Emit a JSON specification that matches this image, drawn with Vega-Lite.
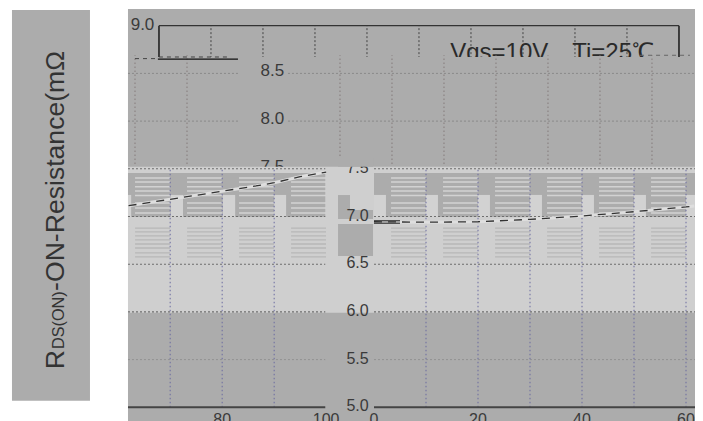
{"$schema":"https://vega.github.io/schema/vega-lite/v6.json","width":703,"height":421,"padding":0,"autosize":{"type":"fit","contains":"padding"},"background":"#ffffff","config":{"view":{"stroke":null},"axis":{"disable":true},"text":{"font":"Liberation Sans"}},"resolve":{"scale":{"x":"independent"}},
"datasets":{"curve":[{"x":0,"y":6.945},{"x":10,"y":6.94},{"x":20,"y":6.945},{"x":30,"y":6.97},{"x":40,"y":7.005},{"x":50,"y":7.05},{"x":60,"y":7.1},{"x":61.6,"y":7.11},{"x":62,"y":7.113},{"x":70,"y":7.18},{"x":80,"y":7.265},{"x":86.5,"y":7.32},{"x":90,"y":7.354},{"x":95,"y":7.417},{"x":100,"y":7.466}],
"upperStripes":[{"y":7.404},{"y":7.362},{"y":7.313},{"y":7.267},{"y":7.22},{"y":7.142},{"y":7.09},{"y":7.037}],
"lowerStripes":[{"y":6.879},{"y":6.838},{"y":6.796},{"y":6.754},{"y":6.712},{"y":6.67},{"y":6.618},{"y":6.576}]},
"layer":[
{"data":{"values":[{"x":-69.62,"x2":-54.62,"y":5.069,"y2":9.165},{"x":-47.31,"x2":61.73,"y":4.8564,"y2":9.175}]},"mark":{"type":"rect","color":"#acacac"},"encoding":{"x":{"field":"x","type":"quantitative","scale":{"domain":[-71.923,63.269],"nice":false}},"x2":{"field":"x2"},"y":{"field":"y","type":"quantitative","scale":{"domain":[4.8564,9.2694],"nice":false}},"y2":{"field":"y2"}}},
{"data":{"values":[{"x":10},{"x":20},{"x":30},{"x":40},{"x":50},{"x":60},{"x":70},{"x":80},{"x":90}]},"mark":{"type":"rule","color":"#444444","strokeDash":[2,2]},"encoding":{"x":{"field":"x","type":"quantitative","scale":{"domain":[-30.573,104.619],"nice":false}},"y":{"datum":8.66,"type":"quantitative"},"y2":{"datum":9}}},
{"data":{"values":[{"x":0},{"x":100}]},"mark":{"type":"rule","color":"#222222","strokeWidth":1.6},"encoding":{"x":{"field":"x","type":"quantitative","scale":{"domain":[-30.573,104.619],"nice":false}},"y":{"datum":8.67,"type":"quantitative"},"y2":{"datum":9}}},
{"data":{"values":[{"x":0,"x2":100,"y":9}]},"mark":{"type":"rule","color":"#333333","strokeWidth":1.2},"encoding":{"x":{"field":"x","type":"quantitative","scale":{"domain":[-30.573,104.619],"nice":false}},"x2":{"field":"x2"},"y":{"field":"y","type":"quantitative"}}},
{"data":{"values":[{"x":56,"y":8.64,"t":"Vgs=10V，Ti=25℃"}]},"mark":{"type":"text","fontSize":24,"align":"left","baseline":"alphabetic","color":"#2a2a2a"},"encoding":{"x":{"field":"x","type":"quantitative","scale":{"domain":[-30.573,104.619],"nice":false}},"y":{"field":"y","type":"quantitative"},"text":{"field":"t"}}},
{"data":{"values":[{"y":9}]},"mark":{"type":"text","fontSize":17,"align":"center","baseline":"middle","dy":-1,"color":"#3a3a3a"},"encoding":{"x":{"datum":-3.17,"type":"quantitative","scale":{"domain":[-30.573,104.619],"nice":false}},"y":{"field":"y","type":"quantitative"},"text":{"field":"y","type":"quantitative","format":".1f"}}},
{"data":{"values":[{"x":-47.31,"x2":61.73,"y":7.522,"y2":8.672}]},"mark":{"type":"rect","color":"#acacac"},"encoding":{"x":{"field":"x","type":"quantitative","scale":{"domain":[-71.923,63.269],"nice":false}},"x2":{"field":"x2"},"y":{"field":"y","type":"quantitative"},"y2":{"field":"y2"}}},
{"data":{"values":[{"x":-47.31,"x2":-25.96,"y":8.5},{"x":-16.54,"x2":61.73,"y":8.5},{"x":-47.31,"x2":-25.96,"y":8},{"x":-16.54,"x2":61.73,"y":8}]},"mark":{"type":"rule","color":"#8a8a8a","strokeDash":[2,2]},"encoding":{"x":{"field":"x","type":"quantitative","scale":{"domain":[-71.923,63.269],"nice":false}},"x2":{"field":"x2"},"y":{"field":"y","type":"quantitative"}}},
{"data":{"values":[{"x":10},{"x":20},{"x":30},{"x":40},{"x":50},{"x":60},{"x":70}]},"mark":{"type":"rule","color":"#847b7b","strokeDash":[1.5,2.5]},"encoding":{"x":{"field":"x","type":"quantitative","scale":{"domain":[-55.383,79.809],"nice":false}},"y":{"datum":7.55,"type":"quantitative"},"y2":{"datum":8.69}}},
{"data":{"values":[{"x":80},{"x":90}]},"mark":{"type":"rule","color":"#847b7b","strokeDash":[1.5,2.5]},"encoding":{"x":{"field":"x","type":"quantitative","scale":{"domain":[54.037,189.229],"nice":false}},"y":{"datum":7.55,"type":"quantitative"},"y2":{"datum":8.69}}},
{"data":{"values":[{"y":8.5},{"y":8},{"y":7.5}]},"mark":{"type":"text","fontSize":17,"align":"center","baseline":"middle","dy":-2,"color":"#3a3a3a"},"encoding":{"x":{"datum":-3,"type":"quantitative","scale":{"domain":[-55.383,79.809],"nice":false}},"y":{"field":"y","type":"quantitative"},"text":{"field":"y","type":"quantitative","format":".1f"}}},
{"data":{"values":[{"x":-47.31,"x2":61.73,"y":5.992,"y2":7.522}]},"mark":{"type":"rect","color":"#cfcfcf"},"encoding":{"x":{"field":"x","type":"quantitative","scale":{"domain":[-71.923,63.269],"nice":false}},"x2":{"field":"x2"},"y":{"field":"y","type":"quantitative"},"y2":{"field":"y2"}}},
{"data":{"values":[{"x":-47.31,"x2":-9.37,"y":6.995,"y2":7.456},{"x":0,"x2":61.73,"y":6.995,"y2":7.456},{"x":-6.92,"x2":-4.62,"y":7.068,"y2":7.225},{"x":-6.92,"x2":-0.19,"y":6.974,"y2":7.068},{"x":-6.92,"x2":-0.19,"y":6.586,"y2":6.921}]},"mark":{"type":"rect","color":"#acacac"},"encoding":{"x":{"field":"x","type":"quantitative","scale":{"domain":[-71.923,63.269],"nice":false}},"x2":{"field":"x2"},"y":{"field":"y","type":"quantitative"},"y2":{"field":"y2"}}},
{"data":{"values":[{"x":-47.31,"x2":-46.7},{"x":-39.1,"x2":-36.73},{"x":-29.1,"x2":-26.7},{"x":-19.2,"x2":-16.9},{"x":0,"x2":2.3},{"x":10,"x2":12.3},{"x":20,"x2":22.3},{"x":30,"x2":32.3},{"x":40,"x2":42.3},{"x":50,"x2":52.3},{"x":60,"x2":61.73}]},"mark":{"type":"rect","color":"#d2d2d2"},"encoding":{"x":{"field":"x","type":"quantitative","scale":{"domain":[-71.923,63.269],"nice":false}},"x2":{"field":"x2"},"y":{"datum":6.995,"type":"quantitative"},"y2":{"datum":7.226}}},
{"data":{"name":"upperStripes"},"mark":{"type":"rule","color":"#d2d2d2","strokeWidth":1.5,"strokeDash":[35,17]},"encoding":{"x":{"datum":63.24,"type":"quantitative","scale":{"domain":[37.277,172.469],"nice":false}},"x2":{"datum":100},"y":{"field":"y","type":"quantitative"}}},
{"data":{"name":"upperStripes"},"mark":{"type":"rule","color":"#d2d2d2","strokeWidth":1.5,"strokeDash":[35,17]},"encoding":{"x":{"datum":3.27,"type":"quantitative","scale":{"domain":[-71.923,63.269],"nice":false}},"x2":{"datum":60},"y":{"field":"y","type":"quantitative"}}},
{"data":{"name":"lowerStripes"},"mark":{"type":"rule","color":"#b8b8b8","strokeWidth":1.3,"strokeDash":[35,17]},"encoding":{"x":{"datum":63.24,"type":"quantitative","scale":{"domain":[37.277,172.469],"nice":false}},"x2":{"datum":100},"y":{"field":"y","type":"quantitative"}}},
{"data":{"name":"lowerStripes"},"mark":{"type":"rule","color":"#b8b8b8","strokeWidth":1.3,"strokeDash":[35,17]},"encoding":{"x":{"datum":3.27,"type":"quantitative","scale":{"domain":[-71.923,63.269],"nice":false}},"x2":{"datum":60},"y":{"field":"y","type":"quantitative"}}},
{"data":{"values":[{"x":-47.31,"x2":-9.37,"y":7.5},{"x":0,"x2":61.73,"y":7.5},{"x":-47.31,"x2":-9.37,"y":7},{"x":0,"x2":61.73,"y":7},{"x":-47.31,"x2":-9.37,"y":6.5},{"x":0,"x2":61.73,"y":6.5},{"x":-47.31,"x2":-9.37,"y":6},{"x":0,"x2":61.73,"y":6}]},"mark":{"type":"rule","color":"#6e6e6e","strokeDash":[2,2],"strokeWidth":1.1},"encoding":{"x":{"field":"x","type":"quantitative","scale":{"domain":[-71.923,63.269],"nice":false}},"x2":{"field":"x2"},"y":{"field":"y","type":"quantitative"}}},
{"data":{"values":[{"x":-47.31,"x2":-9.37,"y":5.5},{"x":0,"x2":61.73,"y":5.5}]},"mark":{"type":"rule","color":"#929292","strokeDash":[2,2]},"encoding":{"x":{"field":"x","type":"quantitative","scale":{"domain":[-71.923,63.269],"nice":false}},"x2":{"field":"x2"},"y":{"field":"y","type":"quantitative"}}},
{"data":{"values":[{"x":10},{"x":20},{"x":30},{"x":40},{"x":50},{"x":60}]},"mark":{"type":"rule","color":"#6a6aa0","strokeDash":[1.5,2.5]},"encoding":{"x":{"field":"x","type":"quantitative","scale":{"domain":[-71.923,63.269],"nice":false}},"y":{"datum":5,"type":"quantitative"},"y2":{"datum":7.5}}},
{"data":{"values":[{"x":70},{"x":80},{"x":90}]},"mark":{"type":"rule","color":"#6a6aa0","strokeDash":[1.5,2.5]},"encoding":{"x":{"field":"x","type":"quantitative","scale":{"domain":[37.277,172.469],"nice":false}},"y":{"datum":5,"type":"quantitative"},"y2":{"datum":7.5}}},
{"data":{"values":[{"x":-47.31,"x2":-9.37,"y":5},{"x":0,"x2":61.73,"y":5}]},"mark":{"type":"rule","color":"#444444","strokeWidth":2},"encoding":{"x":{"field":"x","type":"quantitative","scale":{"domain":[-71.923,63.269],"nice":false}},"x2":{"field":"x2"},"y":{"field":"y","type":"quantitative"}}},
{"data":{"name":"curve"},"transform":[{"filter":"datum.x<=61.6"}],"mark":{"type":"line","color":"#dedede","strokeWidth":3},"encoding":{"x":{"field":"x","type":"quantitative","scale":{"domain":[-71.923,63.269],"nice":false}},"y":{"field":"y","type":"quantitative"}}},
{"data":{"name":"curve"},"transform":[{"filter":"datum.x<=61.6"}],"mark":{"type":"line","color":"#333333","strokeWidth":1.3,"strokeDash":[8,6]},"encoding":{"x":{"field":"x","type":"quantitative","scale":{"domain":[-71.923,63.269],"nice":false}},"y":{"field":"y","type":"quantitative"}}},
{"data":{"name":"curve"},"transform":[{"filter":"datum.x>=62"}],"mark":{"type":"line","color":"#dedede","strokeWidth":3},"encoding":{"x":{"field":"x","type":"quantitative","scale":{"domain":[37.277,172.469],"nice":false}},"y":{"field":"y","type":"quantitative"}}},
{"data":{"name":"curve"},"transform":[{"filter":"datum.x>=62"}],"mark":{"type":"line","color":"#333333","strokeWidth":1.3,"strokeDash":[8,6]},"encoding":{"x":{"field":"x","type":"quantitative","scale":{"domain":[37.277,172.469],"nice":false}},"y":{"field":"y","type":"quantitative"}}},
{"data":{"values":[{"x":0,"x2":5,"y":6.955},{"x":0,"x2":5,"y":6.93}]},"mark":{"type":"rule","color":"#222222","strokeWidth":1.1},"encoding":{"x":{"field":"x","type":"quantitative","scale":{"domain":[-71.923,63.269],"nice":false}},"x2":{"field":"x2"},"y":{"field":"y","type":"quantitative"}}},
{"data":{"values":[{"y":7.5},{"y":7},{"y":6.5},{"y":6},{"y":5.5},{"y":5}]},"mark":{"type":"text","fontSize":16,"align":"center","baseline":"middle","dy":-1,"color":"#3a3a3a"},"encoding":{"x":{"datum":-3.17,"type":"quantitative","scale":{"domain":[-71.923,63.269],"nice":false}},"y":{"field":"y","type":"quantitative"},"text":{"field":"y","type":"quantitative","format":".1f"}}},
{"data":{"values":[{"x":-6.92,"x2":-0.19,"y":7.522,"y2":7.613}]},"mark":{"type":"rect","color":"#acacac"},"encoding":{"x":{"field":"x","type":"quantitative","scale":{"domain":[-71.923,63.269],"nice":false}},"x2":{"field":"x2"},"y":{"field":"y","type":"quantitative"},"y2":{"field":"y2"}}},
{"data":{"values":[{"x":0},{"x":20},{"x":40},{"x":60}]},"mark":{"type":"text","fontSize":16,"align":"center","baseline":"top","clip":true,"color":"#3a3a3a"},"encoding":{"x":{"field":"x","type":"quantitative","scale":{"domain":[-71.923,63.269],"nice":false}},"y":{"datum":4.95,"type":"quantitative"},"text":{"field":"x","type":"quantitative"}}},
{"data":{"values":[{"x":80},{"x":100}]},"mark":{"type":"text","fontSize":16,"align":"center","baseline":"top","clip":true,"color":"#3a3a3a"},"encoding":{"x":{"field":"x","type":"quantitative","scale":{"domain":[37.277,172.469],"nice":false}},"y":{"datum":4.95,"type":"quantitative"},"text":{"field":"x","type":"quantitative"}}},
{"data":{"values":[{"x":84.4,"x2":99.8,"y":8.65}]},"mark":{"type":"rule","color":"#111111","strokeWidth":1.2},"encoding":{"x":{"field":"x","type":"quantitative","scale":{"domain":[54.037,189.229],"nice":false}},"x2":{"field":"x2"},"y":{"field":"y","type":"quantitative"}}},
{"data":{"values":[{"x":80,"x2":84.4,"y":8.655},{"x":84.6,"x2":98,"y":8.672}]},"mark":{"type":"rule","color":"#444444","strokeDash":[4,4]},"encoding":{"x":{"field":"x","type":"quantitative","scale":{"domain":[54.037,189.229],"nice":false}},"x2":{"field":"x2"},"y":{"field":"y","type":"quantitative"}}},
{"data":{"values":[{"x":67.7,"x2":77.3,"y":8.69}]},"mark":{"type":"rule","color":"#666666","strokeDash":[4,4]},"encoding":{"x":{"field":"x","type":"quantitative","scale":{"domain":[-55.383,79.809],"nice":false}},"x2":{"field":"x2"},"y":{"field":"y","type":"quantitative"}}},
{"data":{"values":[{"y":5.4,"t":"R"},{"y":6.22,"t":"-ON-Resistance(mΩ"}]},"mark":{"type":"text","fontSize":26.6,"angle":270,"align":"left","baseline":"alphabetic","color":"#333333"},"encoding":{"x":{"datum":-59.6,"type":"quantitative","scale":{"domain":[-71.923,63.269],"nice":false}},"y":{"field":"y","type":"quantitative"},"text":{"field":"t"}}},
{"data":{"values":[{"y":5.61,"t":"DS(ON)"}]},"mark":{"type":"text","fontSize":16.3,"angle":270,"align":"left","baseline":"alphabetic","color":"#333333"},"encoding":{"x":{"datum":-59.6,"type":"quantitative","scale":{"domain":[-71.923,63.269],"nice":false}},"y":{"field":"y","type":"quantitative"},"text":{"field":"t"}}}
]}
